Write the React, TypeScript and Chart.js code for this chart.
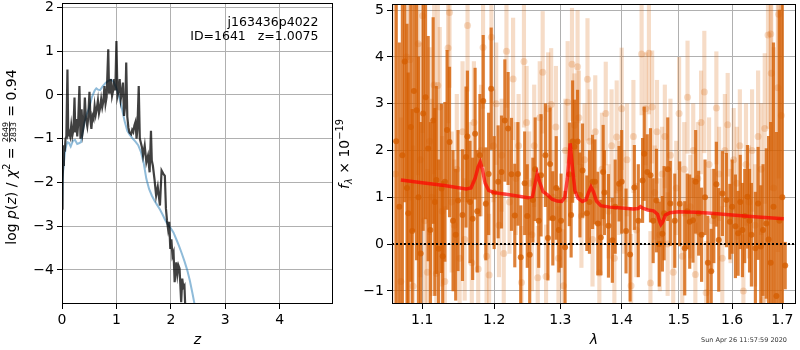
import React, { useEffect, useRef } from 'react';
import { Chart, registerables } from 'chart.js';

Chart.register(...registerables);

const FAMILY = "'DejaVu Sans', 'Liberation Sans', sans-serif";

// ---------------- Left panel: p(z) ----------------
const zTicks = [0, 1, 2, 3, 4];
const logpTicks = [-4, -3, -2, -1, 0, 1, 2];

// smooth prior-like curve (light blue)
const zModel = [0, 0.02, 0.05, 0.08, 0.1, 0.13, 0.16, 0.2, 0.24, 0.28, 0.32, 0.35, 0.38, 0.41, 0.45, 0.5, 0.55, 0.6, 0.63, 0.66, 0.7, 0.75, 0.8, 0.85, 0.9, 0.95, 1.0, 1.05, 1.1, 1.15, 1.2, 1.25, 1.3, 1.35, 1.4, 1.45, 1.5, 1.55, 1.6, 1.65, 1.7, 1.75, 1.8, 1.85, 1.9, 1.95, 2.0, 2.05, 2.1, 2.15, 2.2, 2.25, 2.3, 2.35, 2.4, 2.45, 2.5];
const logpModel = [-2.6, -1.75, -1.35, -1.15, -1.08, -1.1, -1.18, -1.05, -1.03, -1.12, -1.1, -1.08, -0.85, -0.65, -0.45, -0.3, -0.05, 0.1, 0.15, 0.12, 0.11, 0.2, 0.27, 0.32, 0.35, 0.3, 0.15, -0.05, -0.3, -0.6, -0.82, -0.92, -1.0, -1.07, -1.15, -1.3, -1.55, -1.92, -2.15, -2.3, -2.42, -2.52, -2.62, -2.74, -2.87, -2.97, -3.05, -3.15, -3.3, -3.45, -3.62, -3.8, -4.0, -4.25, -4.55, -4.88, -5.3];

// noisy fit curve (dark)
const zFit = [0.0, 0.01, 0.02, 0.035, 0.05, 0.065, 0.08, 0.1, 0.115, 0.13, 0.15, 0.17, 0.19, 0.21, 0.23, 0.245, 0.265, 0.28, 0.295, 0.32, 0.34, 0.36, 0.38, 0.4, 0.42, 0.44, 0.465, 0.48, 0.505, 0.525, 0.54, 0.56, 0.58, 0.6, 0.62, 0.635, 0.66, 0.68, 0.7, 0.72, 0.74, 0.76, 0.78, 0.8, 0.82, 0.85, 0.865, 0.88, 0.9, 0.92, 0.94, 0.96, 0.98, 1.0, 1.02, 1.04, 1.06, 1.08, 1.1, 1.12, 1.14, 1.165, 1.18, 1.2, 1.22, 1.24, 1.27, 1.29, 1.31, 1.33, 1.35, 1.37, 1.385, 1.41, 1.43, 1.45, 1.47, 1.49, 1.52, 1.55, 1.58, 1.61, 1.635, 1.65, 1.67, 1.7, 1.73, 1.76, 1.8, 1.83, 1.86, 1.89, 1.91, 1.93, 1.95, 1.97, 1.99, 2.01, 2.03, 2.05, 2.07, 2.1, 2.12, 2.14, 2.16, 2.19, 2.21, 2.23, 2.25, 2.27, 2.3];
const logpFit = [-2.6, -2.0, -1.6, -1.15, -1.3, -1.0, -0.95, 0.58, -0.9, -0.85, -0.95, -0.7, -0.93, -0.8, -0.06, -0.86, -0.55, -0.95, -0.7, 0.2, -1.0, -0.33, -0.86, -0.7, -0.06, -0.55, -0.72, -0.55, 0.07, -0.6, -0.78, -0.48, -0.55, -0.25, -0.45, -0.35, -0.13, -0.42, -0.3, -0.1, -0.28, -0.15, 0.2, -0.2, -0.05, 1.04, 0.05, 0.1, 0.36, -0.02, 0.1, 0.36, 0.1, 1.23, -0.02, 0.1, 0.36, -0.1, 0.05, 0.28, -0.48, -0.2, 0.74, -0.5, -0.75, -0.86, -0.9, -0.8, -0.85, -0.7, -0.62, -1.0, -0.8, 0.2, -1.0, -1.1, -1.2, -1.39, -1.16, -1.54, -1.39, -1.77, -0.82, -1.5, -1.62, -1.93, -2.3, -2.1, -2.53, -1.73, -1.8, -1.85, -2.6, -2.88, -3.07, -2.9, -3.52, -3.3, -3.68, -3.6, -4.28, -3.83, -4.1, -3.9, -3.97, -4.74, -4.2, -4.4, -4.36, -5.0, -5.6];

const objectLabel = 'j163436p4022';
const idLabel = 'ID=1641   z=1.0075';

// ---------------- Right panel: spectrum ----------------
const lamTicks = [1.1, 1.2, 1.3, 1.4, 1.5, 1.6, 1.7];
const fluxTicks = [-1, 0, 1, 2, 3, 4, 5];
const zeroLam = [1.0606, 1.7284];

const lamDark = [1.066, 1.070, 1.074, 1.077, 1.080, 1.0816, 1.085, 1.0868, 1.089, 1.0926,
  1.095, 1.098, 1.1013, 1.1045, 1.108, 1.111, 1.1147, 1.117, 1.119, 1.122,
  1.126, 1.1276, 1.1306, 1.1336, 1.137, 1.1418, 1.1455, 1.1487, 1.1549, 1.1599,
  1.1618, 1.1655, 1.1692, 1.1727, 1.1757, 1.1795, 1.1842, 1.188, 1.192, 1.1957,
  1.2, 1.2058, 1.2107, 1.2156, 1.2204, 1.2254, 1.2303, 1.235, 1.2392, 1.2451,
  1.249, 1.2527, 1.2575, 1.261, 1.2664, 1.27, 1.2767, 1.2806, 1.284, 1.2882,
  1.2935, 1.2975, 1.3011, 1.3074, 1.3142, 1.317, 1.3194, 1.3223, 1.3273, 1.3311,
  1.3353, 1.3423, 1.3465, 1.3516, 1.3554, 1.3603, 1.3652, 1.369, 1.3711, 1.3778,
  1.3843, 1.389, 1.3956, 1.40, 1.4074, 1.4143, 1.4216, 1.4284, 1.4358, 1.4387,
  1.4439, 1.4496, 1.4543, 1.4601, 1.465, 1.4706, 1.4737, 1.4802, 1.4848, 1.4928,
  1.5018, 1.5109, 1.5155, 1.52, 1.526, 1.531, 1.5365, 1.542, 1.5484, 1.5537,
  1.56, 1.565, 1.5698, 1.5743, 1.5813, 1.589, 1.5956, 1.60, 1.6064, 1.6116,
  1.6158, 1.62, 1.6245, 1.6298, 1.634, 1.6377, 1.6456, 1.651, 1.6563, 1.6609,
  1.6675, 1.672, 1.6763, 1.682, 1.688, 1.694, 1.700, 1.706];
const fluxDark = [2.2, 0.8, 1.9, 3.9, 1.2, 0.66, 2.5, 0.28, 3.27, 2.86,
  1.0, -0.2, 2.79, 3.14, 2.04, 0.3, 2.64, 0.9, 1.37, -0.1,
  1.19, -0.26, 1.33, 2.44, 2.18, 0.5, 0.2, 0.93, 0.62, 1.86,
  2.3, 0.9, 0.54, 2.36, 0.70, 1.9, 3.06, 0.86, 1.5, 3.32,
  1.1, 1.33, 1.54, 2.64, 2.47, 1.49, 0.61, 1.5, -0.28, 1.3,
  0.6, -0.23, 0.94, 1.6, 0.5, 1.47, 1.9, 0.13, 1.71, 0.55,
  1.2, 0.3, 0.5, -0.07, 1.49, 0.62, 2.19, 2.08, 2.19, 1.05,
  1.57, 0.66, 0.9, 1.33, 1.33, 0.44, 0.14, 1.54, 1.1, 0.39,
  0.08, 0.8, 1.29, 1.33, 0.28, -0.22, 1.21, 0.5, 1.36, 1.93,
  1.54, 1.47, 0.5, 0.93, 0.0, 0.22, 0.66, 1.6, 0.87, 0.5,
  0.86, -0.09, 0.7, 0.48, 0.51, 1.33, 0.66, 0.2, 1.0, -0.40,
  -0.58, 0.6, 1.28, 0.09, 1.08, 0.94, 0.48, 0.80, 0.38, 0.23,
  0.9, 0.30, 0.6, 1.01, 0.5, 0.2, -0.09, 0.87, -0.05, 0.30,
  0.44, 0.1, -0.40, 0.8, -1.11, 0.5, 1.0, -0.46];
const errDark = [4.0, 3.5, 3.2, 3.0, 3.5, 3.0, 3.3, 2.6, 3.0, 3.2,
  3.0, 2.8, 2.5, 2.6, 2.4, 2.3, 2.2, 2.0, 2.0, 1.9,
  1.8, 1.6, 1.7, 1.7, 1.6, 1.5, 1.4, 1.5, 1.4, 1.5,
  1.4, 1.3, 1.3, 1.4, 1.3, 1.3, 1.4, 1.2, 1.3, 1.3,
  1.2, 1.2, 1.2, 1.3, 1.2, 1.2, 1.1, 1.1, 1.1, 1.1,
  1.1, 1.2, 0.9, 1.1, 1.0, 1.3, 1.1, 0.9, 1.2, 1.0,
  1.1, 0.9, 1.0, 1.2, 1.1, 0.9, 1.3, 1.0, 1.1, 0.9,
  1.0, 0.8, 1.1, 1.0, 0.9, 1.1, 0.8, 1.0, 0.9, 1.1,
  0.9, 1.0, 0.8, 1.1, 0.9, 1.0, 0.9, 1.2, 0.9, 1.0,
  0.8, 1.0, 0.9, 1.1, 0.9, 0.8, 1.0, 1.1, 0.9, 1.0,
  0.9, 1.0, 0.8, 1.0, 0.9, 1.1, 0.9, 1.0, 0.8, 1.0,
  0.9, 1.0, 0.9, 1.1, 0.9, 1.0, 0.8, 1.0, 1.1, 0.9,
  1.0, 1.0, 1.0, 1.1, 1.1, 1.1, 1.2, 1.2, 1.3, 1.4,
  1.6, 2.2, 3.0, 3.5, 3.5, 4.5, 5.0, 0.5];

const lamLight = [1.065, 1.072, 1.0795, 1.0838, 1.088, 1.0947, 1.0975, 1.1006, 1.1035, 1.107,
  1.11, 1.113, 1.116, 1.119, 1.121, 1.1236, 1.127, 1.1305, 1.135, 1.137,
  1.14, 1.1435, 1.147, 1.151, 1.155, 1.158, 1.162, 1.165, 1.168, 1.171,
  1.1771, 1.181, 1.184, 1.189, 1.1927, 1.196, 1.199, 1.203, 1.207, 1.211,
  1.214, 1.218, 1.2225, 1.2278, 1.232, 1.236, 1.2403, 1.244, 1.248, 1.252,
  1.256, 1.2595, 1.2649, 1.268, 1.2725, 1.2777, 1.281, 1.2856, 1.289, 1.293,
  1.297, 1.3048, 1.308, 1.3115, 1.3184, 1.3223, 1.3273, 1.3295, 1.3335, 1.3385,
  1.3433, 1.347, 1.3515, 1.356, 1.3627, 1.367, 1.3733, 1.378, 1.383, 1.3877,
  1.3916, 1.396, 1.40, 1.404, 1.409, 1.416, 1.42, 1.425, 1.4341, 1.4411,
  1.4469, 1.4495, 1.4525, 1.457, 1.461, 1.466, 1.47, 1.475, 1.48, 1.485,
  1.49, 1.4955, 1.5006, 1.5064, 1.51, 1.516, 1.521, 1.5265, 1.5304, 1.535,
  1.541, 1.5471, 1.5505, 1.556, 1.562, 1.5698, 1.575, 1.581, 1.586, 1.5914,
  1.597, 1.603, 1.609, 1.615, 1.6219, 1.627, 1.633, 1.639, 1.645, 1.651,
  1.657, 1.6615, 1.6643, 1.6709, 1.6763, 1.6775, 1.6825, 1.691, 1.6925, 1.698];
const fluxLight = [1.5, -0.8, 4.0, 3.94, -0.9, 4.28, 1.8, 4.88, 0.5, -0.6,
  2.2, 1.0, 3.4, -0.63, 3.39, 2.93, 0.7, -0.8, 4.19, 4.95,
  0.9, 0.4, 1.6, -0.3, 2.4, 0.1, 4.67, 1.3, -0.4, 2.6,
  -0.53, 2.0, 4.2, -0.26, -0.66, 4.42, 2.1, 3.0, 0.4, 1.9,
  -0.2, 4.12, 0.9, 3.53, 1.4, 2.1, -0.82, 3.9, 2.6, 1.3,
  0.2, 2.1, -0.72, 2.7, 3.67, -0.69, 2.89, 2.98, 1.0, 2.5,
  -0.3, -0.89, 2.0, 3.03, 3.84, 2.54, 3.79, 2.70, 0.6, 1.8,
  3.52, 2.2, 0.1, 2.4, -0.62, 1.6, 2.79, 0.7, 2.1, -0.3,
  2.29, 1.2, 2.89, 0.9, 1.8, -0.89, 2.3, 0.3, 4.06, 2.89,
  4.08, -0.83, 2.93, 1.1, 2.4, 0.2, 1.5, 2.3, 0.0, 1.9,
  -0.6, 1.2, 2.79, -0.26, 1.6, 3.14, 0.8, 2.0, -0.65, 1.4,
  2.6, 3.25, -1.04, 1.7, 0.5, 2.91, 1.5, -0.3, 2.0, 2.55,
  0.6, 1.8, 1.3, 2.1, -1.0, 1.7, 0.9, 2.0, 0.4, 2.3,
  1.6, -1.19, 2.47, 4.47, 4.49, 3.65, 1.2, 3.34, 4.91, 2.75];
const errLight = [4.0, 3.5, 3.0, 3.0, 3.0, 2.8, 2.5, 2.5, 2.3, 2.2,
  2.0, 2.1, 1.9, 1.8, 1.8, 1.7, 1.6, 1.6, 1.6, 1.6,
  1.5, 1.4, 1.6, 1.4, 1.5, 1.3, 1.4, 1.3, 1.4, 1.3,
  1.3, 1.4, 1.3, 1.2, 1.3, 1.4, 1.2, 1.3, 1.1, 1.2,
  1.3, 1.2, 1.1, 1.3, 1.2, 1.1, 1.2, 1.4, 1.2, 1.1,
  1.2, 1.3, 1.1, 1.2, 1.3, 1.1, 1.2, 1.2, 1.0, 1.3,
  1.1, 1.2, 1.1, 1.3, 1.2, 1.1, 1.2, 1.0, 1.1, 1.2,
  1.3, 1.1, 1.0, 1.2, 1.1, 1.2, 1.1, 1.0, 1.2, 1.1,
  1.2, 1.0, 1.3, 1.1, 1.2, 1.1, 1.2, 1.0, 1.3, 1.2,
  1.3, 1.1, 1.2, 1.0, 1.1, 1.2, 1.0, 1.1, 1.1, 1.2,
  1.1, 1.0, 1.2, 1.1, 1.0, 1.2, 1.1, 1.0, 1.1, 1.2,
  1.1, 1.3, 1.1, 1.0, 1.1, 1.2, 1.0, 1.1, 1.2, 1.1,
  1.0, 1.1, 1.2, 1.2, 1.2, 1.3, 1.2, 1.3, 1.3, 1.4,
  1.4, 1.5, 1.6, 2.0, 2.5, 2.5, 3.0, 3.5, 3.5, 4.0];

const lamModel = [1.072, 1.10, 1.13, 1.16, 1.167, 1.173, 1.177, 1.18, 1.183, 1.187, 1.192, 1.20, 1.22, 1.25, 1.257, 1.261, 1.264, 1.268, 1.273, 1.28, 1.287, 1.295, 1.302, 1.307, 1.311, 1.3155, 1.319, 1.323, 1.328, 1.335, 1.341, 1.345, 1.349, 1.353, 1.358, 1.365, 1.38, 1.40, 1.42, 1.428, 1.432, 1.436, 1.445, 1.455, 1.462, 1.466, 1.468, 1.471, 1.476, 1.484, 1.50, 1.53, 1.56, 1.60, 1.65, 1.703];
const fluxModel = [1.37, 1.31, 1.25, 1.18, 1.2, 1.42, 1.65, 1.75, 1.6, 1.3, 1.15, 1.1, 1.06, 0.99, 1.02, 1.3, 1.5, 1.32, 1.12, 1.05, 0.96, 0.92, 0.91, 1.0, 1.4, 2.15, 1.65, 1.15, 0.98, 0.91, 0.95, 1.1, 1.22, 1.12, 0.92, 0.82, 0.79, 0.77, 0.75, 0.76, 0.8, 0.77, 0.73, 0.71, 0.64, 0.48, 0.42, 0.47, 0.62, 0.67, 0.69, 0.68, 0.66, 0.62, 0.58, 0.54];

const timestamp = 'Sun Apr 26 11:57:59 2020';

// ---------------- helpers ----------------
const DARK = 'rgba(213,94,0,0.78)';
const LIGHT = 'rgba(213,94,0,0.22)';

const fmtMinus = (v: number) => (v < 0 ? '\u2212' + Math.abs(v) : String(v));
const tickFont = { family: FAMILY, size: 14 };
const gridOpts = { color: '#b0b0b0', lineWidth: 1, tickColor: '#000', tickLength: 5, tickWidth: 1, offset: false };

function fixScale(w?: number, h?: number) {
  return (s: any) => {
    if (w !== undefined) s.width = w;
    if (h !== undefined) s.height = h;
    s.paddingLeft = 0;
    s.paddingRight = 0;
    s.paddingTop = 0;
    s.paddingBottom = 0;
  };
}
function setTicks(vals: number[]) {
  return (s: any) => {
    s.ticks = vals.map((v) => ({ value: v }));
  };
}

const framePlugin = {
  id: 'frame',
  afterDatasetsDraw(chart: any) {
    const { ctx, chartArea: a } = chart;
    ctx.save();
    ctx.strokeStyle = '#000';
    ctx.lineWidth = 1;
    ctx.strokeRect(Math.round(a.left) + 0.5, Math.round(a.top) + 0.5, Math.round(a.right - a.left) - 1, Math.round(a.bottom - a.top) - 1);
    ctx.restore();
  },
};

type Seg = { text?: string; size: number; italic?: boolean; dy?: number; frac?: [string, string] };
const fontStr = (size: number, italic?: boolean) => `${italic ? 'italic ' : ''}${size}px ${FAMILY}`;

function drawRich(ctx: CanvasRenderingContext2D, segs: Seg[], x: number, y: number, rotate: boolean) {
  ctx.save();
  ctx.translate(x, y);
  if (rotate) ctx.rotate(-Math.PI / 2);
  ctx.fillStyle = '#000';
  ctx.textBaseline = 'alphabetic';
  ctx.textAlign = 'left';
  const ws = segs.map((s) => {
    if (s.frac) {
      ctx.font = fontStr(s.size);
      return Math.max(ctx.measureText(s.frac[0]).width, ctx.measureText(s.frac[1]).width) + 2;
    }
    ctx.font = fontStr(s.size, s.italic);
    return ctx.measureText(s.text || '').width;
  });
  let cx = -ws.reduce((a, b) => a + b, 0) / 2;
  segs.forEach((s, i) => {
    if (s.frac) {
      ctx.font = fontStr(s.size);
      const w = ws[i];
      const n = ctx.measureText(s.frac[0]).width;
      const d = ctx.measureText(s.frac[1]).width;
      ctx.fillText(s.frac[0], cx + (w - n) / 2, -7.8);
      ctx.fillText(s.frac[1], cx + (w - d) / 2, -0.2);
      ctx.fillRect(cx + 0.5, -7.0, w - 1, 0.8);
    } else {
      ctx.font = fontStr(s.size, s.italic);
      ctx.fillText(s.text || '', cx, s.dy || 0);
    }
    cx += ws[i];
  });
  ctx.restore();
}

const leftTitle: Seg[] = [
  { text: 'log ', size: 14 },
  { text: 'p', size: 14, italic: true },
  { text: '(', size: 14 },
  { text: 'z', size: 14, italic: true },
  { text: ') / ', size: 14 },
  { text: '\u03c7', size: 14, italic: true },
  { text: '2', size: 9.8, dy: -6 },
  { text: ' = ', size: 14 },
  { frac: ['2649', '2833'], size: 7.8 },
  { text: ' = 0.94', size: 14 },
];
const rightTitle: Seg[] = [
  { text: 'f', size: 14, italic: true },
  { text: '\u03bb', size: 9.8, italic: true, dy: 3 },
  { text: ' \u00d7 10', size: 14 },
  { text: '\u221219', size: 9.8, dy: -6 },
];

const RIGHT_LEFT = 334; // page x where the right canvas starts

const leftText = {
  id: 'leftText',
  afterDraw(chart: any) {
    const ctx: CanvasRenderingContext2D = chart.ctx;
    ctx.save();
    ctx.fillStyle = '#000';
    ctx.font = fontStr(12.5);
    ctx.textAlign = 'right';
    ctx.textBaseline = 'alphabetic';
    ctx.fillText(objectLabel, 318.5, 26);
    ctx.fillText(idLabel, 318.5, 40);
    ctx.restore();
    drawRich(ctx, leftTitle, 16, 157, true);
  },
};

const rightText = {
  id: 'rightText',
  afterDraw(chart: any) {
    const ctx: CanvasRenderingContext2D = chart.ctx;
    drawRich(ctx, rightTitle, 349 - RIGHT_LEFT, 154, true);
    ctx.save();
    ctx.fillStyle = '#333';
    ctx.font = fontStr(6.5);
    ctx.textAlign = 'right';
    ctx.textBaseline = 'alphabetic';
    ctx.fillText(timestamp, 787 - RIGHT_LEFT, 342);
    ctx.restore();
  },
};

function leftConfig(): any {
  return {
    type: 'line',
    data: {
      datasets: [
        {
          label: 'fit',
          data: zFit.map((x, i) => ({ x, y: logpFit[i] })),
          borderColor: 'rgba(0,0,0,0.75)',
          borderWidth: 2.2,
          pointRadius: 0,
          tension: 0,
          order: 0,
          clip: 0,
        },
        {
          label: 'prior',
          data: zModel.map((x, i) => ({ x, y: logpModel[i] })),
          borderColor: 'rgba(31,119,180,0.5)',
          borderWidth: 2,
          pointRadius: 0,
          tension: 0,
          order: 1,
          clip: 0,
        },
      ],
    },
    options: {
      responsive: false,
      animation: false,
      devicePixelRatio: 1,
      layout: { padding: { left: 0, right: RIGHT_LEFT - 333, top: 3, bottom: 0 } },
      plugins: { legend: { display: false }, tooltip: { enabled: false } },
      scales: {
        x: {
          type: 'linear',
          min: 0,
          max: 4.98,
          afterBuildTicks: setTicks(zTicks),
          afterFit: fixScale(undefined, 46),
          ticks: { font: tickFont, color: '#000', padding: 3, autoSkip: false, maxRotation: 0, callback: (v: number) => fmtMinus(v) },
          grid: gridOpts,
          border: { display: false },
          title: { display: true, text: 'z', color: '#000', font: { family: FAMILY, size: 14, style: 'italic' }, padding: { top: 0, bottom: 1 } },
        },
        y: {
          type: 'linear',
          min: -4.78,
          max: 2.1,
          afterBuildTicks: setTicks(logpTicks),
          afterFit: fixScale(62, undefined),
          ticks: { font: tickFont, color: '#000', padding: 3, autoSkip: false, callback: (v: number) => fmtMinus(v) },
          grid: gridOpts,
          border: { display: false },
        },
      },
    },
    plugins: [framePlugin, leftText],
  };
}

function rightConfig(): any {
  return {
    type: 'bar',
    data: {
      datasets: [
        {
          type: 'line',
          label: 'zero',
          data: zeroLam.map((x) => ({ x, y: 0 })),
          borderColor: '#000',
          borderWidth: 2,
          borderDash: [2, 2],
          pointRadius: 0,
          order: 0,
          clip: 0,
        },
        {
          type: 'line',
          label: 'model',
          data: lamModel.map((x, i) => ({ x, y: fluxModel[i] })),
          borderColor: 'rgba(255,0,0,0.7)',
          borderWidth: 3.5,
          pointRadius: 0,
          tension: 0,
          order: 1,
          clip: 0,
        },
        {
          type: 'scatter',
          label: 'dark points',
          data: lamDark.map((x, i) => ({ x, y: fluxDark[i] })),
          pointRadius: 3,
          pointBackgroundColor: DARK,
          pointBorderWidth: 0,
          borderColor: DARK,
          backgroundColor: DARK,
          order: 2,
          clip: 0,
        },
        {
          type: 'bar',
          label: 'dark errors',
          data: lamDark.map((x, i) => ({ x, y: [fluxDark[i] - errDark[i], fluxDark[i] + errDark[i]] })),
          backgroundColor: DARK,
          borderWidth: 0,
          barThickness: 2.5,
          grouped: false,
          order: 3,
          clip: 0,
        },
        {
          type: 'scatter',
          label: 'light points',
          data: lamLight.map((x, i) => ({ x, y: fluxLight[i] })),
          pointRadius: 3.5,
          pointBackgroundColor: LIGHT,
          pointBorderWidth: 0,
          borderColor: LIGHT,
          backgroundColor: LIGHT,
          order: 4,
          clip: 0,
        },
        {
          type: 'bar',
          label: 'light errors',
          data: lamLight.map((x, i) => ({ x, y: [fluxLight[i] - errLight[i], fluxLight[i] + errLight[i]] })),
          backgroundColor: LIGHT,
          borderWidth: 0,
          barThickness: 3.5,
          grouped: false,
          order: 5,
          clip: 0,
        },
      ],
    },
    options: {
      responsive: false,
      animation: false,
      devicePixelRatio: 1,
      layout: { padding: { left: 0, right: 2, top: 3, bottom: 0 } },
      plugins: { legend: { display: false }, tooltip: { enabled: false } },
      scales: {
        x: {
          type: 'logarithmic',
          min: 1.0606,
          max: 1.7284,
          offset: false,
          afterBuildTicks: setTicks(lamTicks),
          afterFit: fixScale(undefined, 46),
          ticks: { font: tickFont, color: '#000', padding: 3, autoSkip: false, maxRotation: 0, callback: (v: number) => Number(v).toFixed(1) },
          grid: gridOpts,
          border: { display: false },
          title: { display: true, text: '\u03bb', color: '#000', font: { family: FAMILY, size: 14, style: 'italic' }, padding: { top: 0, bottom: 1 } },
        },
        y: {
          type: 'linear',
          min: -1.28,
          max: 5.13,
          afterBuildTicks: setTicks(fluxTicks),
          afterFit: fixScale(392 - RIGHT_LEFT, undefined),
          ticks: { font: tickFont, color: '#000', padding: 3, autoSkip: false, callback: (v: number) => fmtMinus(v) },
          grid: gridOpts,
          border: { display: false },
        },
      },
    },
    plugins: [framePlugin, rightText],
  };
}

export default function App() {
  const leftRef = useRef<HTMLCanvasElement>(null);
  const rightRef = useRef<HTMLCanvasElement>(null);
  useEffect(() => {
    const c1 = new Chart(leftRef.current as HTMLCanvasElement, leftConfig());
    const c2 = new Chart(rightRef.current as HTMLCanvasElement, rightConfig());
    return () => {
      c1.destroy();
      c2.destroy();
    };
  }, []);
  const rw = 800 - RIGHT_LEFT;
  return (
    <div style={{ position: 'fixed', left: 0, top: 0, width: 800, height: 350, background: '#fff', overflow: 'hidden' }}>
      <canvas ref={leftRef} width={RIGHT_LEFT} height={350} style={{ position: 'absolute', left: 0, top: 0, width: RIGHT_LEFT, height: 350 }} />
      <canvas ref={rightRef} width={rw} height={350} style={{ position: 'absolute', left: RIGHT_LEFT, top: 0, width: rw, height: 350 }} />
    </div>
  );
}
